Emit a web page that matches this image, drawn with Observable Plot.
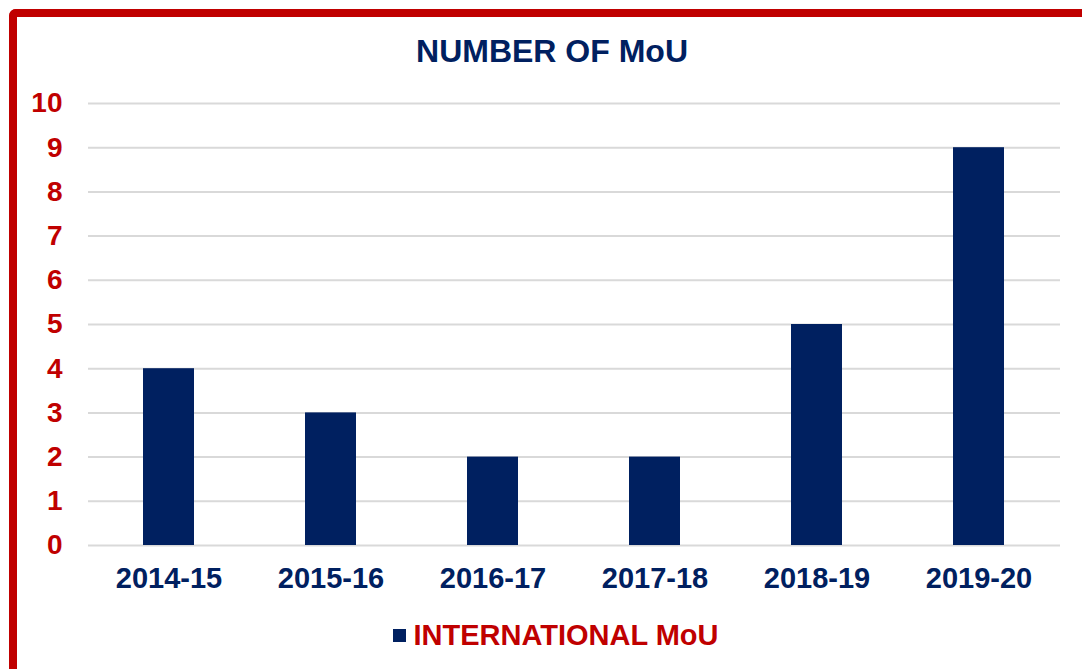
<!DOCTYPE html>
<html>
<head>
<meta charset="utf-8">
<script src="https://cdn.jsdelivr.net/npm/d3@7"></script>
<script src="https://cdn.jsdelivr.net/npm/@observablehq/plot@0.6"></script>
<style>
  html, body { margin: 0; padding: 0; background: #fff; overflow: hidden; }
  #wrap { position: relative; width: 1082px; height: 669px; overflow: hidden; font-family: "Liberation Sans", Arial, sans-serif; }
  #frame { position: absolute; left: 9px; top: 9px; width: 1200px; height: 800px;
           border-top: 8px solid #C00000; border-left: 8px solid #C00000; border-top-left-radius: 7px; box-sizing: border-box; }
  #title { position: absolute; left: 0; width: 1104px; top: 33px; text-align: center;
           font-size: 32px; font-weight: bold; color: #002060; line-height: 36px; }
  #chart { position: absolute; left: 0; top: 0; }
  #legend { position: absolute; left: 0; width: 1112px; top: 619px; text-align: center;
            font-size: 29px; font-weight: bold; color: #C00000; line-height: 32px; }
  #legend .sw { display: inline-block; width: 13px; height: 13px; background: #002060; margin-right: 7px; vertical-align: 3px; }
</style>
</head>
<body>
<div id="wrap">
  <div id="frame"></div>
  <div id="chart"></div>
  <div id="title">NUMBER OF MoU</div>
  <div id="legend"><span class="sw"></span>INTERNATIONAL MoU</div>
</div>
<script>
const years = ["2014-15", "2015-16", "2016-17", "2017-18", "2018-19", "2019-20"];
const mous = [4, 3, 2, 2, 5, 9];
const yTicks = [0, 1, 2, 3, 4, 5, 6, 7, 8, 9, 10];

const data = years.map((y, i) => ({year: y, value: mous[i]}));

const chart = Plot.plot({
  width: 1082,
  height: 600,
  marginTop: 103,
  marginBottom: 55,
  marginLeft: 88,
  marginRight: 22,
  style: {fontFamily: "'Liberation Sans', Arial, sans-serif", background: "transparent", overflow: "visible"},
  x: {domain: years, paddingInner: 0.685, paddingOuter: 0.3425, label: null},
  y: {domain: [0, 10], label: null},
  marks: [
    Plot.gridY(yTicks, {stroke: "#d9d9d9", strokeOpacity: 1, strokeWidth: 2}),
    Plot.barY(data, {x: "year", y: "value", fill: "#002060"}),
    Plot.axisY(yTicks, {tickSize: 0, tickPadding: 26, fontSize: 28, fontWeight: "bold", fill: "#C00000", label: null}),
    Plot.axisX({tickSize: 0, tickPadding: 22, fontSize: 29, fontWeight: "bold", fill: "#002060", label: null})
  ]
});
document.getElementById("chart").appendChild(chart);
</script>
</body>
</html>
